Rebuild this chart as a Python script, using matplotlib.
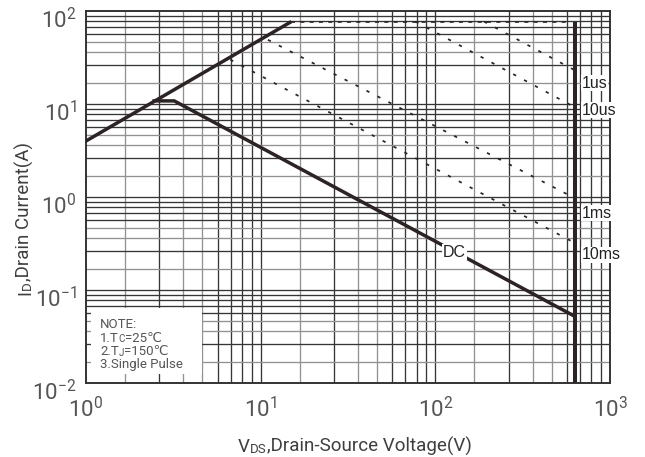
import numpy as np
import matplotlib
matplotlib.use("Agg")
import matplotlib.pyplot as plt
from matplotlib import font_manager as fm
from matplotlib.patches import Rectangle
from matplotlib.ticker import NullFormatter, NullLocator
from matplotlib.transforms import ScaledTranslation

installed = {f.name for f in fm.fontManager.ttflist}


def pick(*names):
    for n in names:
        if n in installed:
            return n
    return "DejaVu Sans"


LABEL_FONT = pick("Roboto", "Lato", "Open Sans", "Liberation Sans")
NARROW_FONT = pick("Liberation Sans Narrow", "Liberation Sans")
NARROW_SIZE = 13.5 if NARROW_FONT == "Liberation Sans Narrow" else 11.5

# ---- safe operating area data (VDS in V, ID in A) ----
rds_v = [1.0, 15.0]
rds_i = [4.0, 77.0]

dc_v = [2.4, 3.2, 630.0]
dc_i = [10.8, 10.8, 0.052]

limit_v = [15.0, 570.0]
limit_i = [77.0, 77.0]

bvdss_v = [630.0, 630.0]
bvdss_i = [77.0, 0.01]

p1us_v = [190.0, 630.0]
p1us_i = [77.0, 23.0]
p10us_v = [77.0, 630.0]
p10us_i = [77.0, 9.2]
p1ms_v = [11.0, 630.0]
p1ms_i = [49.0, 0.97]
p10ms_v = [6.7, 630.0]
p10ms_i = [30.0, 0.32]

pulse_names = ["1us", "10us", "1ms", "10ms"]
pulse_name_i = [16.8, 8.6, 0.67, 0.238]
pulse_name_v = 690.0
dc_name = "DC"
dc_name_v, dc_name_i = 129.0, 0.256

x_ticks = [1, 10, 100, 1000]
x_exps = ["0", "1", "2", "3"]
y_ticks = [0.01, 0.1, 1, 10, 100]
y_exps = ["-2", "-1", "0", "1", "2"]

DARK = "#2b2324"
GRID_DARK = "#363636"
GRID_LIGHT = "#929292"
TEXT = "#3f3f3f"

fig = plt.figure(figsize=(6.45, 4.57), dpi=100)
ax = fig.add_axes([86 / 645, 74 / 457, 524 / 645, 372 / 457])
ax.set_xscale("log")
ax.set_yscale("log")
ax.set_xlim(1, 1000)
ax.set_ylim(0.01, 100)


# chart-paper style grid: each decade carries eight intermediate rulings
def ruling_positions(d_lo, d_hi):
    pos = []
    for d in range(d_lo, d_hi):
        for k in range(2, 10):
            pos.append((k, 10 ** (d + (np.log10(k) - 0.1) / 0.9)))
        if d > d_lo:
            pos.append((10, 10.0 ** d))
    return pos


def ruling_color(k):
    return GRID_LIGHT if k in (2, 4, 5) else GRID_DARK


for k, v in ruling_positions(0, 3):
    ax.axvline(v, color=ruling_color(k), lw=0.95, zorder=1)
for k, v in ruling_positions(-2, 2):
    ax.axhline(v, color=ruling_color(k), lw=0.95, zorder=1)

# note box background
ax.add_patch(Rectangle((1.068, 0.0125), 4.61 - 1.068, 0.064 - 0.0125,
                       facecolor="white", edgecolor="none", zorder=2))

# boundaries
ax.plot(rds_v, rds_i, color=DARK, lw=2.5, solid_capstyle="butt", zorder=3)
ax.plot(dc_v, dc_i, color=DARK, lw=2.5, solid_capstyle="butt", zorder=3)
ax.plot(bvdss_v, bvdss_i, color=DARK, lw=2.9, solid_capstyle="butt", zorder=3)
ax.plot(limit_v, limit_i, color=DARK, lw=1.2, ls=(0, (2.4, 3.2)), zorder=3)
for vv, ii in [(p1us_v, p1us_i), (p10us_v, p10us_i),
               (p1ms_v, p1ms_i), (p10ms_v, p10ms_i)]:
    ax.plot(vv, ii, color=DARK, lw=1.25, ls=(0, (1.9, 5.2)), zorder=3)

for name, iv in zip(pulse_names, pulse_name_i):
    ax.text(pulse_name_v, iv, name, family=NARROW_FONT, size=NARROW_SIZE,
            color="#222222", ha="left", va="center", zorder=6,
            bbox=dict(facecolor="white", edgecolor="none", pad=0.6))
ax.text(dc_name_v, dc_name_i, dc_name, family=NARROW_FONT, size=NARROW_SIZE,
        color="#222222", ha="center", va="center", zorder=6,
        bbox=dict(facecolor="white", edgecolor="none", pad=0.6))

# frame and ticks
for s in ax.spines.values():
    s.set_color("#333333")
    s.set_linewidth(1.4)
ax.xaxis.set_minor_locator(NullLocator())
ax.yaxis.set_minor_locator(NullLocator())
ax.xaxis.set_minor_formatter(NullFormatter())
ax.yaxis.set_minor_formatter(NullFormatter())
ax.set_xticks(x_ticks, [rf"$\mathregular{{10^{{{e}}}}}$" for e in x_exps])
ax.set_yticks(y_ticks, [rf"$\mathregular{{10^{{{e}}}}}$" for e in y_exps])
ax.tick_params(length=0, labelsize=16, labelcolor="#555555")
ax.tick_params(axis="x", pad=10)
ax.tick_params(axis="y", pad=7)
for lab in ax.get_xticklabels() + ax.get_yticklabels():
    lab.set_family(LABEL_FONT)
for lab in ax.get_yticklabels():
    lab.set_transform(lab.get_transform() + ScaledTranslation(0, -5 / 72, fig.dpi_scale_trans))


# text made of normal and small-cap pieces, chained one after another
def chained(x, y, pieces, rotation=0, **kw):
    prev = None
    for s, size in pieces:
        if prev is None:
            prev = ax.annotate(s, xy=(x, y), xycoords="figure fraction",
                               size=size, rotation=rotation,
                               ha="right" if rotation else "left", va="bottom",
                               annotation_clip=False, **kw)
        else:
            prev = ax.annotate(s, xy=(1, 1) if rotation else (1, 0), xycoords=prev,
                               size=size, rotation=rotation,
                               ha="right" if rotation else "left", va="bottom",
                               annotation_clip=False, **kw)
    return prev


label_kw = dict(family=[LABEL_FONT, "DejaVu Sans"], color=TEXT)
chained(238 / 645, 1 / 457,
        [("V", 13.5), ("DS", 9.5), (",Drain-Source Voltage(V)", 13.5)], **label_kw)
chained(34 / 645, (457 - 295) / 457,
        [("I", 13.5), ("D", 9.5), (",Drain Current(A)", 13.5)], rotation=90, **label_kw)

note_kw = dict(family=[LABEL_FONT, "DejaVu Sans"], color="#555555", zorder=6)
note_left = 100 / 645
chained(note_left, (457 - 331) / 457, [("NOTE:", 9.5)], **note_kw)
chained(note_left, (457 - 344.5) / 457, [("1.T", 9.5), ("C", 7), ("=25\u2103", 9.5)], **note_kw)
chained(note_left, (457 - 358) / 457, [("2.T", 9.5), ("J", 7), ("=150\u2103", 9.5)], **note_kw)
chained(note_left, (457 - 371) / 457, [("3.Single Pulse", 9.5)], **note_kw)

fig.savefig("out.png", dpi=100, facecolor="white")
